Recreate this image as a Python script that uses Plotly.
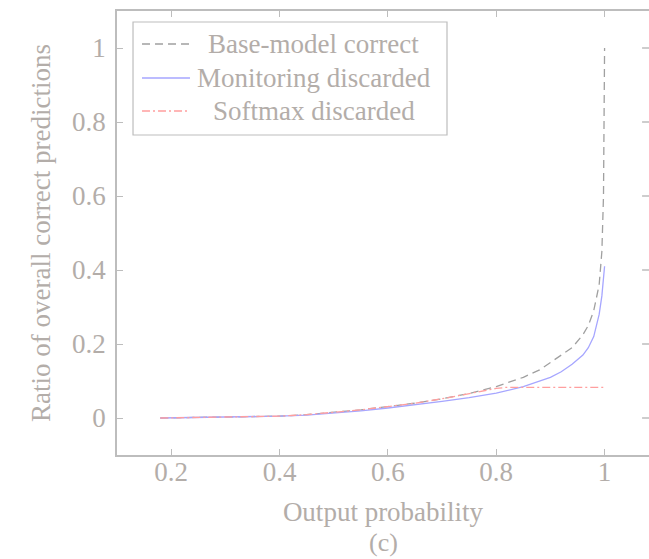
import plotly.graph_objects as go

# Data
x_base = [0.18, 0.25, 0.3, 0.35, 0.4, 0.45, 0.5, 0.55, 0.6, 0.65, 0.7, 0.75, 0.8, 0.85, 0.88, 0.9, 0.92, 0.94, 0.96, 0.97, 0.98, 0.99, 0.995, 0.998, 1.0]
y_base = [0, 0.001, 0.002, 0.003, 0.005, 0.009, 0.015, 0.022, 0.031, 0.040, 0.052, 0.066, 0.085, 0.11, 0.13, 0.15, 0.17, 0.19, 0.225, 0.25, 0.29, 0.36, 0.45, 0.6, 1.0]

x_mon = [0.18, 0.25, 0.3, 0.35, 0.4, 0.45, 0.5, 0.55, 0.6, 0.65, 0.7, 0.75, 0.8, 0.85, 0.88, 0.9, 0.92, 0.94, 0.96, 0.97, 0.98, 0.99, 0.995, 0.998, 1.0]
y_mon = [0, 0.001, 0.002, 0.003, 0.005, 0.008, 0.013, 0.019, 0.027, 0.035, 0.045, 0.055, 0.067, 0.085, 0.10, 0.11, 0.125, 0.145, 0.17, 0.19, 0.22, 0.28, 0.33, 0.37, 0.41]

x_soft = [0.18, 0.25, 0.3, 0.35, 0.4, 0.45, 0.5, 0.55, 0.6, 0.65, 0.7, 0.75, 0.8, 0.82, 0.9, 1.0]
y_soft = [0, 0.001, 0.002, 0.003, 0.005, 0.009, 0.015, 0.022, 0.031, 0.040, 0.052, 0.066, 0.080, 0.083, 0.083, 0.083]

series_names = ["Base-model correct", "Monitoring discarded", "Softmax discarded"]

x_ticks = [0.2, 0.4, 0.6, 0.8, 1.0]
x_ticklabels = ["0.2", "0.4", "0.6", "0.8", "1"]
y_ticks = [0, 0.2, 0.4, 0.6, 0.8, 1.0]
y_ticklabels = ["0", "0.2", "0.4", "0.6", "0.8", "1"]

TXT = "#b3ada9"
AX = "#bdbdbd"
FONT = "Liberation Serif"
FS = 27

styles = [
    dict(color="#a0a0a0", width=1.3, dash="8px,5px"),
    dict(color="#a6a6ff", width=1.3),
    dict(color="#ff9f9f", width=1.3, dash="8px,3px,2px,3px"),
]

fig = go.Figure()
for xs, ys, nm, st in zip([x_base, x_mon, x_soft], [y_base, y_mon, y_soft], series_names, styles):
    fig.add_trace(go.Scatter(x=xs, y=ys, mode="lines", name=nm, line=st, showlegend=False))

fig.update_layout(
    width=649, height=559,
    margin=dict(l=117, r=0, t=11, b=104, autoexpand=False),
    paper_bgcolor="white", plot_bgcolor="white",
    font=dict(family=FONT, size=FS, color=TXT),
    showlegend=False,
    xaxis=dict(range=[0.1, 1.082], tickvals=x_ticks, ticktext=x_ticklabels,
               ticks="inside", ticklen=6, tickcolor=AX, showline=True, linecolor=AX,
               linewidth=1.5, mirror="ticks", showgrid=False, zeroline=False,
               automargin=False, ticklabelstandoff=-8,
               title=dict(text="Output probability", standoff=16,
                          font=dict(family=FONT, size=FS, color=TXT)),
               tickfont=dict(family=FONT, size=FS, color=TXT)),
    yaxis=dict(range=[-0.1, 1.1], tickvals=y_ticks, ticktext=y_ticklabels,
               ticks="inside", ticklen=6, tickcolor=AX, showline=True, linecolor=AX,
               linewidth=1.5, showgrid=False, zeroline=False, ticklabelstandoff=4,
               automargin=False,
               title=dict(text="Ratio of overall correct predictions", standoff=14,
                          font=dict(family=FONT, size=FS, color=TXT)),
               tickfont=dict(family=FONT, size=FS, color=TXT)),
)

# Right-side inward tick marks (the right frame line falls outside the picture)
for yt in y_ticks:
    fig.add_shape(type="line", xref="paper", yref="y", x0=0.987, x1=1.0, y0=yt, y1=yt,
                  line=dict(color=AX, width=1.5))

# Legend box (drawn in paper coordinates)
fig.add_shape(type="rect", xref="paper", yref="paper", x0=0.0301, x1=0.6203, y0=0.7207, y1=0.9752,
              line=dict(color=AX, width=1.2), fillcolor="white", layer="above")
row_y = [0.9257, 0.8491, 0.7748]
for nm, st, ry in zip(series_names, styles, row_y):
    fig.add_shape(type="line", xref="paper", yref="paper", x0=0.047, x1=0.1372, y0=ry, y1=ry,
                  line=st, layer="above")
    fig.add_annotation(text=nm, xref="paper", yref="paper", x=0.3703, y=ry,
                       xanchor="center", yanchor="middle", showarrow=False,
                       font=dict(family=FONT, size=FS, color=TXT))

fig.add_annotation(text="(c)", xref="paper", yref="paper", x=0.5, y=-0.198,
                   xanchor="center", yanchor="middle", showarrow=False, borderpad=0,
                   font=dict(family=FONT, size=FS - 1, color=TXT))

fig.write_html("out.html", config={"displayModeBar": False},
               post_script="document.body.style.margin='0';document.body.style.overflow='hidden';")
